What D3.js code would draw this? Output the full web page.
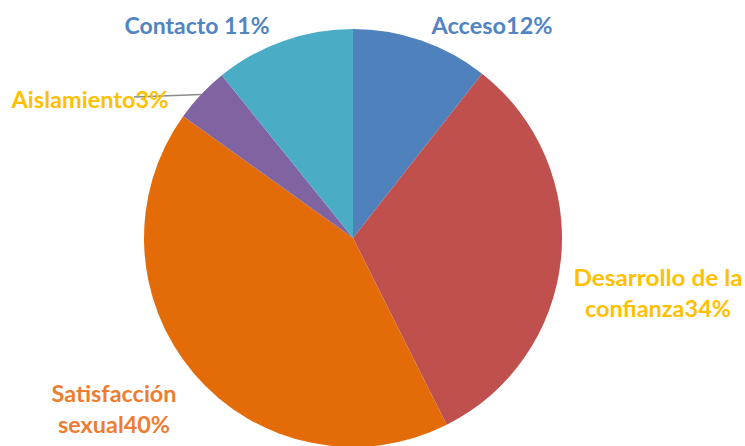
<!DOCTYPE html>
<html>
<head>
<meta charset="utf-8">
<script src="https://cdn.jsdelivr.net/npm/d3@7"></script>
<style>
  body { margin: 0; background: #fff; }
  text { font-family: Lato, "Open Sans", sans-serif; font-weight: bold; }
</style>
</head>
<body>
<svg id="chart"></svg>
<script>
const categories = ['Acceso', 'Desarrollo de la confianza', 'Satisfacción sexual', 'Aislamiento', 'Contacto'];
// slice sizes (printed labels differ slightly)
const values = [10.6, 32.0, 42.3, 4.3, 10.8];
const labelText = [['Acceso12%'], ['Desarrollo de la', 'confianza34%'], ['Satisfacción', 'sexual40%'], ['Aislamiento3%'], ['Contacto 11%']];

const sliceColors = ['#4F81BD', '#C0504D', '#E36C09', '#8064A2', '#4BACC6'];
const textColors = ['#5184C2', '#FFC000', '#ED7D31', '#FFC000', '#5184C2'];
// label anchor (centre of first line baseline) and line widths
const labelXY = [[492, 34], [658, 286], [114, 402], [90, 108], [197, 34]];
const labelW = [[121], [169, 146], [125, 112], [157], [145]];

const w = 745;
const h = 446;
const cx = 353;
const cy = 238;
const radius = 209;

const svg = d3.select('#chart')
              .attr('width', w)
              .attr('height', h);

const pie = d3.pie()
              .sort(null)
              .value((d) => d);
const arc = d3.arc()
              .innerRadius(0)
              .outerRadius(radius);

const arcs = pie(values);

const g = svg.append('g')
             .attr('transform', 'translate(' + cx + ',' + cy + ')');

g.selectAll('path')
 .data(arcs)
 .enter()
 .append('path')
 .attr('d', arc)
 .attr('fill', (d, i) => sliceColors[i]);

// leader line for the small slice
const small = arcs[3];
const mid = (small.startAngle + small.endAngle) / 2;
svg.append('line')
   .attr('x1', cx + radius * Math.sin(mid))
   .attr('y1', cy - radius * Math.cos(mid))
   .attr('x2', 134)
   .attr('y2', 97)
   .attr('stroke', '#8c8c8c')
   .attr('stroke-width', 1.5);

//LABELS
for (var i = 0; i < categories.length; i++) {
  const t = svg.append('text')
     .attr('x', labelXY[i][0])
     .attr('y', labelXY[i][1])
     .attr('text-anchor', 'middle')
     .attr('font-size', 22)
     .attr('fill', textColors[i]);
  labelText[i].forEach((line, j) => {
    t.append('tspan')
     .attr('x', labelXY[i][0])
     .attr('dy', j == 0 ? 0 : 31)
     .attr('textLength', labelW[i][j])
     .attr('lengthAdjust', 'spacingAndGlyphs')
     .text(line);
  });
}
</script>
</body>
</html>
